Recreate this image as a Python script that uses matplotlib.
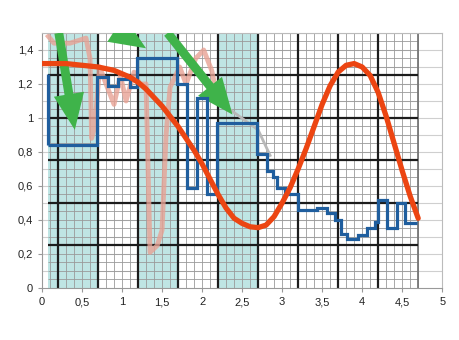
import numpy as np
import matplotlib
matplotlib.use("Agg")
import matplotlib.pyplot as plt
from matplotlib.patches import FancyArrowPatch

plt.rcParams['font.family'] = ['Liberation Sans', 'DejaVu Sans']

# tick labels (comma decimals as in the picture)
xticks = [0, 0.5, 1, 1.5, 2, 2.5, 3, 3.5, 4, 4.5, 5]
xlabels = ["0", "0,5", "1", "1,5", "2", "2,5", "3", "3,5", "4", "4,5", "5"]
yticks = [0, 0.2, 0.4, 0.6, 0.8, 1, 1.2, 1.4]
ylabels = ["0", "0,2", "0,4", "0,6", "0,8", "1", "1,2", "1,4"]

# red smooth curve
red_x = [0.0, 0.1, 0.2, 0.3, 0.4, 0.5, 0.6, 0.7, 0.8, 0.9, 1.0, 1.1, 1.2, 1.3, 1.4, 1.5,
         1.6, 1.7, 1.8, 1.9, 2.0, 2.1, 2.2, 2.3, 2.4, 2.5, 2.6, 2.7, 2.8, 2.9, 3.0, 3.1,
         3.2, 3.3, 3.4, 3.5, 3.6, 3.7, 3.8, 3.9, 4.0, 4.1, 4.2, 4.3, 4.4, 4.5, 4.6, 4.7]
red_y = [1.32, 1.32, 1.32, 1.32, 1.315, 1.31, 1.305, 1.30, 1.29, 1.28, 1.26, 1.24, 1.21,
         1.17, 1.12, 1.07, 1.01, 0.95, 0.88, 0.81, 0.73, 0.64, 0.55, 0.47, 0.41, 0.38,
         0.36, 0.355, 0.37, 0.42, 0.50, 0.59, 0.70, 0.82, 0.95, 1.08, 1.19, 1.27, 1.31,
         1.32, 1.30, 1.25, 1.15, 1.01, 0.85, 0.69, 0.54, 0.41]

# blue step line
blue_edges = [0.075, 0.69, 0.82, 0.95, 1.1, 1.19, 1.69, 1.81, 1.94, 2.06, 2.19, 2.69, 2.81,
              2.88, 2.94, 3.04, 3.2, 3.44, 3.56, 3.66, 3.73, 3.81, 3.95, 4.06, 4.16, 4.2,
              4.31, 4.43, 4.53, 4.68]
blue_levels = [0.84, 1.24, 1.19, 1.23, 1.18, 1.35, 1.2, 0.59, 1.12, 0.55, 0.97, 0.79, 0.69,
               0.65, 0.59, 0.55, 0.46, 0.47, 0.44, 0.40, 0.32, 0.29, 0.31, 0.35, 0.39, 0.52,
               0.35, 0.5, 0.38]
blue_start_top = 1.26

# pale pink line and its grey continuation
pink_x = [0.08, 0.15, 0.35, 0.55, 0.6, 0.62, 0.66, 0.72, 0.8, 0.9, 0.98, 1.05, 1.15, 1.22,
          1.3, 1.35, 1.44, 1.5, 1.55, 1.6, 1.72, 1.8, 1.92, 2.02, 2.12, 2.2]
pink_y = [1.48, 1.44, 1.44, 1.47, 1.35, 0.88, 0.95, 1.3, 1.2, 1.08, 1.25, 1.1, 1.27, 1.2,
          1.2, 0.21, 0.25, 0.34, 0.9, 1.18, 1.3, 1.2, 1.35, 1.4, 1.28, 1.1]
grey_x = [2.2, 2.7, 2.85]
grey_y = [1.1, 0.93, 0.78]

# green arrows: start and tip (starts sit on the top edge)
arrow_start = [(0.21, 1.5), (1.0, 1.5), (1.57, 1.5)]
arrow_tip = [(0.41, 0.93), (1.3, 1.41), (2.38, 1.02)]

# shaded columns
bands = [(0.075, 0.7), (1.2, 1.7), (2.2, 2.7)]

fig = plt.figure(figsize=(4.6, 3.4), dpi=100)
ax = fig.add_axes([0.0913, 0.153, 0.87, 0.75])
ax.set_xlim(0, 5)
ax.set_ylim(0, 1.5)

# excel grid
for yv in np.arange(0.1, 1.55, 0.1):
    ax.axhline(yv, color='#cfcfcf', lw=0.8, zorder=0)

for a, b in bands:
    ax.axvspan(a, b, color='#bfe5e4', lw=0, zorder=0.5)

# graph paper
ax.vlines(np.arange(0.1, 4.71, 0.1), 0, 1.5, color='#9a9a9a', lw=0.6, zorder=1)
ax.hlines(np.arange(0.05, 1.51, 0.05), 0.075, 4.7, color='#9a9a9a', lw=0.6, zorder=1)
ax.vlines(np.arange(0.2, 4.3, 0.5), 0, 1.5, color='#1c1c1c', lw=1.6, zorder=1.2)
ax.vlines([4.7], 0, 1.5, color='#777777', lw=1.3, zorder=1.2)
ax.hlines(np.arange(0.25, 1.3, 0.25), 0.075, 4.7, color='#1c1c1c', lw=1.6, zorder=1.2)

ax.plot(pink_x, pink_y, color='#e8a294', lw=3.5, alpha=0.8, zorder=2,
        solid_joinstyle='round')
ax.plot(grey_x, grey_y, color='#b8b8b8', lw=2, zorder=2)

for s, t in zip(arrow_start, arrow_tip):
    arr = FancyArrowPatch(s, t, arrowstyle='simple,head_length=1.3,head_width=1.1,tail_width=0.32',
                          mutation_scale=20, color='#3fb34a', lw=0,
                          shrinkA=0, shrinkB=0, zorder=3)
    ax.add_patch(arr)

ax.vlines([blue_edges[0]], blue_levels[0], blue_start_top, color='#1f5e9e', lw=2.3, zorder=4)
ax.stairs(blue_levels, blue_edges, baseline=None, color='#1f5e9e', lw=2.3, zorder=4)
ax.plot(red_x, red_y, color='#ec4512', lw=3.8, zorder=5, solid_capstyle='round')

ax.set_xticks(xticks)
ax.set_xticklabels(xlabels)
ax.set_yticks(yticks)
ax.set_yticklabels(ylabels)
ax.tick_params(labelsize=8, colors='#222222', length=3, width=0.8)
ax.tick_params(axis='both', color='#999999')
for sp in ax.spines.values():
    sp.set_color('#bbbbbb')
    sp.set_linewidth(0.8)
ax.spines['left'].set_color('#999999')
ax.spines['bottom'].set_color('#999999')

fig.savefig('out.png', dpi=100)
